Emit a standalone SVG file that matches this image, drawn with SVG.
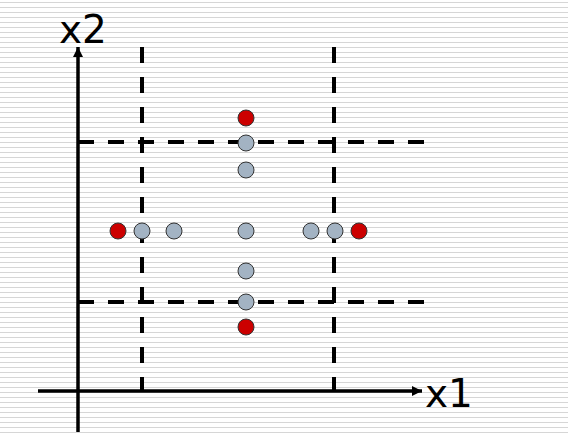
<svg xmlns="http://www.w3.org/2000/svg" width="568" height="437" viewBox="0 0 568 437">
<defs>
<pattern id="stripes" x="0" y="0" width="568" height="5" patternUnits="userSpaceOnUse">
<rect x="0" y="2" width="568" height="1" fill="#d6d6d6"/>
</pattern>
<marker id="arr" viewBox="0 0 10 10" refX="10" refY="5" markerWidth="10" markerHeight="11" markerUnits="userSpaceOnUse" orient="auto">
<path d="M0,0 L10,5 L0,10 Z" fill="#000"/>
</marker>
<style>
.dash{stroke:#000;stroke-width:4;stroke-dasharray:16 14;fill:none}
.axis{stroke:#000;stroke-width:3.5;fill:none}
.g{fill:#a3b3c3;stroke:#333;stroke-width:1}
.r{fill:#cc0000;stroke:#333;stroke-width:1}
.lbl{font-family:"DejaVu Sans",Verdana,sans-serif;font-size:39px;fill:#000}
</style>
</defs>
<rect width="568" height="437" fill="#fff"/>
<rect width="568" height="437" fill="url(#stripes)"/>
<g id="connectors">
<line class="dash" x1="142" y1="47" x2="142" y2="391"/>
<line class="dash" x1="334" y1="47" x2="334" y2="391"/>
<line class="dash" x1="78" y1="142" x2="424" y2="142"/>
<line class="dash" x1="78" y1="302" x2="424" y2="302"/>
<line class="axis" x1="78" y1="432" x2="78" y2="47" marker-end="url(#arr)"/>
<line class="axis" x1="38" y1="391" x2="422" y2="391" marker-end="url(#arr)"/>
</g>
<g id="label-x2"><text class="lbl" x="59" y="43">x2</text></g>
<g id="label-x1"><text class="lbl" x="425" y="407">x1</text></g>
<g id="points">
<circle class="r" cx="246" cy="118" r="8"/>
<circle class="g" cx="246" cy="143" r="8"/>
<circle class="g" cx="246" cy="170" r="8"/>
<circle class="r" cx="118" cy="231" r="8"/>
<circle class="g" cx="142" cy="231" r="8"/>
<circle class="g" cx="174" cy="231" r="8"/>
<circle class="g" cx="246" cy="231" r="8"/>
<circle class="g" cx="311" cy="231" r="8"/>
<circle class="g" cx="335" cy="231" r="8"/>
<circle class="r" cx="359" cy="231" r="8"/>
<circle class="g" cx="246" cy="271" r="8"/>
<circle class="g" cx="246" cy="302" r="8"/>
<circle class="r" cx="246" cy="327" r="8"/>
</g>
</svg>
